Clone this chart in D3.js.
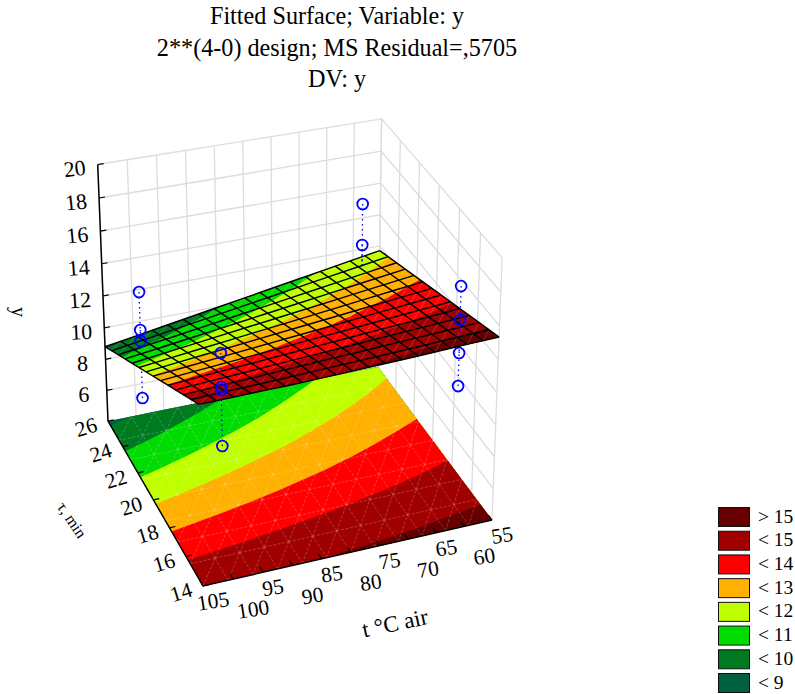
<!DOCTYPE html>
<html>
<head>
<meta charset="utf-8">
<script src="https://cdn.jsdelivr.net/npm/d3@7"></script>
<style>
html, body { margin: 0; padding: 0; background: #fff; }
text { font-family: "Liberation Serif", "Times New Roman", serif; fill: #000; }
</style>
</head>
<body>
<div id="Surface"></div>
<script>
//the chart values
var titleLines = ["Fitted Surface; Variable: y", "2**(4-0) design; MS Residual=,5705", "DV: y"]

var tValues = [105, 100, 95, 90, 85, 80, 75, 70, 65, 60, 55]
var tauValues = [14, 16, 18, 20, 22, 24, 26]
var zTicks = [6, 8, 10, 12, 14, 16, 18, 20]

//fitted surface heights, one row per tau, same order as tValues
var zAtTau14 = [14.90, 14.92, 14.94, 14.96, 15.00, 15.05, 15.10, 15.15, 15.22, 15.28, 15.34]
var zAtTau16 = [13.88, 13.97, 14.05, 14.14, 14.23, 14.31, 14.39, 14.48, 14.56, 14.65, 14.73]
var zAtTau18 = [12.87, 13.00, 13.12, 13.24, 13.37, 13.50, 13.62, 13.75, 13.87, 14.00, 14.13]
var zAtTau20 = [11.85, 12.02, 12.19, 12.35, 12.52, 12.69, 12.85, 13.02, 13.19, 13.36, 13.52]
var zAtTau22 = [10.83, 11.04, 11.25, 11.46, 11.67, 11.87, 12.08, 12.29, 12.50, 12.71, 12.91]
var zAtTau24 = [9.82, 10.06, 10.31, 10.56, 10.81, 11.06, 11.31, 11.56, 11.81, 12.06, 12.31]
var zAtTau26 = [8.80, 9.09, 9.38, 9.67, 9.96, 10.25, 10.54, 10.83, 11.12, 11.41, 11.70]

//the 16 runs of the design
var obsT = [100, 100, 100, 100, 100, 100, 100, 100, 60, 60, 60, 60, 60, 60, 60, 60]
var obsTau = [25, 25, 25, 25, 15, 15, 15, 15, 25, 25, 25, 25, 15, 15, 15, 15]
var obsZ = [12.67, 10.3, 9.6, 5.95, 16.7, 14.73, 14.55, 11.25, 15.68, 13.09, 11.0, 10.0, 17.92, 15.92, 13.94, 11.93]

var levels = [0, 9, 10, 11, 12, 13, 14, 15]
var levelColors = ["#006040", "#007a20", "#00dc00", "#c0ff00", "#ffb000", "#ff0000", "#a00000", "#660000"]
var legendLabels = ["< 9", "< 10", "< 11", "< 12", "< 13", "< 14", "< 15", "> 15"]

//scales, u v w run 0 to 1 along each edge of the box
var uScale = d3.scaleLinear().domain([105, 55]).range([0, 1])
var vScale = d3.scaleLinear().domain([14, 26]).range([0, 1])
var wScale = d3.scaleLinear().domain([4, 20]).range([0, 1])

//camera worked out from the corners of the box in the picture
var project = function(t, tau, z)
{
    var u = uScale(t), v = vScale(tau), w = wScale(z)
    var den = 0.04664*u + 0.09006*v - 0.054*w + 1
    return [(311.95*u - 85.27*v - 16.5*w + 203)/den,
            (-41.75*u - 127.08*v - 288.5*w + 586)/den]
}

var zRows = [zAtTau14, zAtTau16, zAtTau18, zAtTau20, zAtTau22, zAtTau24, zAtTau26]
var nx = tValues.length, ny = tauValues.length
var colToT = d3.scaleLinear().domain([0, nx-1]).range([105, 55])
var rowToTau = d3.scaleLinear().domain([0, ny-1]).range([14, 26])

//height of the surface between the table entries
var surfaceZ = function(t, tau)
{
    var cx = colToT.invert(t), cy = rowToTau.invert(tau)
    var i = Math.min(Math.floor(cx), nx-2), j = Math.min(Math.floor(cy), ny-2)
    var fx = cx - i, fy = cy - j
    return (zRows[j][i]*(1-fx) + zRows[j][i+1]*fx)*(1-fy) + (zRows[j+1][i]*(1-fx) + zRows[j+1][i+1]*fx)*fy
}

var svg = d3.select("#Surface")
.append("svg")
.attr("width", 795)
.attr("height", 694)
.style("display", "block")

var pathOf = function(points, close)
{
    return "M" + points.map(function(p){ return p[0].toFixed(2)+","+p[1].toFixed(2) }).join("L") + (close ? "Z" : "")
}

//back walls
var grid = svg.append("g").attr("fill", "none").attr("stroke", "#dcdcdc").attr("stroke-width", 1.3)
zTicks.forEach(function(z)
{
    grid.append("path").attr("d", pathOf([project(105, 26, z), project(55, 26, z), project(55, 14, z)]))
})
tValues.forEach(function(t)
{
    grid.append("path").attr("d", pathOf([project(t, 26, 4), project(t, 26, 20)]))
})
tauValues.forEach(function(tau)
{
    grid.append("path").attr("d", pathOf([project(55, tau, 4), project(55, tau, 20)]))
})

//coloured bands, painted lowest first so each one sits on the one before
var contourData = d3.contours().size([nx, ny]).smooth(true).thresholds(levels)(d3.merge(zRows))

var drawBands = function(parent, heightOf)
{
    contourData.forEach(function(band, k)
    {
        var d = ""
        band.coordinates.forEach(function(polygon)
        {
            polygon.forEach(function(ring)
            {
                d += pathOf(ring.map(function(p)
                {
                    var t = colToT(Math.max(0, Math.min(nx-1, p[0]-0.5)))
                    var tau = rowToTau(Math.max(0, Math.min(ny-1, p[1]-0.5)))
                    return project(t, tau, heightOf(t, tau))
                }), true)
            })
        })
        parent.append("path")
        .attr("d", d)
        .attr("fill", levelColors[k])
        .attr("fill-rule", "evenodd")
    })
}

//light triangle mesh, tSteps by tauSteps cells
var drawTriangles = function(parent, heightOf, tSteps, tauSteps, opacity, dash, edges)
{
    var tAt = d3.scaleLinear().domain([0, tSteps]).range([105, 55])
    var tauAt = d3.scaleLinear().domain([0, tauSteps]).range([14, 26])
    var d = ""
    d3.range(tSteps).forEach(function(i)
    {
        d3.range(tauSteps).forEach(function(j)
        {
            var p00 = project(tAt(i), tauAt(j), heightOf(tAt(i), tauAt(j)))
            var p10 = project(tAt(i+1), tauAt(j), heightOf(tAt(i+1), tauAt(j)))
            var p01 = project(tAt(i), tauAt(j+1), heightOf(tAt(i), tauAt(j+1)))
            var p11 = project(tAt(i+1), tauAt(j+1), heightOf(tAt(i+1), tauAt(j+1)))
            d += pathOf([p00, p11])
            if(edges)
            {
                d += pathOf([p00, p10]) + pathOf([p00, p01])
            }
        })
    })
    parent.append("path")
    .attr("d", d)
    .attr("fill", "none")
    .attr("stroke", "#fff")
    .attr("stroke-opacity", opacity)
    .attr("stroke-width", 0.8)
    .attr("stroke-dasharray", dash)
}

var floorHeight = function(){ return 4 }

var floor = svg.append("g")
drawBands(floor, floorHeight)
drawTriangles(floor, floorHeight, 12, 8, 0.28, "3 1.5", true)

//floor edges and tick marks
var axes = svg.append("g").attr("fill", "none").attr("stroke", "#000")
axes.append("path").attr("stroke-width", 1.5).attr("d", pathOf([project(105, 26, 20), project(105, 26, 4), project(105, 14, 4), project(55, 14, 4)]))
tValues.forEach(function(t)
{
    axes.append("path").attr("stroke-width", 1.2).attr("d", pathOf([project(t, 14, 4), project(t, 14.35, 4)]))
})
tauValues.forEach(function(tau)
{
    axes.append("path").attr("stroke-width", 1.2).attr("d", pathOf([project(105, tau, 4), project(104, tau, 4)]))
})
zTicks.forEach(function(z)
{
    axes.append("path").attr("stroke-width", 1.2).attr("d", pathOf([project(105, 26, z), project(104, 26, z)]))
})

//split the runs, the ones below the surface get covered by it
var runs = obsZ.map(function(z, i)
{
    return {t: obsT[i], tau: obsTau[i], z: z, below: z < surfaceZ(obsT[i], obsTau[i])}
})

var drawRuns = function(parent, subset)
{
    var g = parent.append("g").attr("fill", "none").attr("stroke", "#0000ff")

    g.selectAll("path")
    .data(subset)
    .enter()
    .append("path")
    .attr("stroke-width", 1.3)
    .attr("stroke-dasharray", "1.5 3.5")
    .attr("d", function(d)
    {
        return pathOf([project(d.t, d.tau, d.z), project(d.t, d.tau, surfaceZ(d.t, d.tau))])
    })

    g.selectAll("circle")
    .data(subset)
    .enter()
    .append("circle")
    .attr("cx", function(d){ return project(d.t, d.tau, d.z)[0] })
    .attr("cy", function(d){ return project(d.t, d.tau, d.z)[1] })
    .attr("r", 5.4)
    .attr("stroke-width", 1.8)
}

drawRuns(svg, runs.filter(function(d){ return d.below }))

//the surface itself
var surface = svg.append("g")
drawBands(surface, surfaceZ)
drawTriangles(surface, surfaceZ, 18, 13, 0.22, null, false)

var meshT = d3.range(19).map(d3.scaleLinear().domain([0, 18]).range([105, 55]))
var meshTau = d3.range(14).map(d3.scaleLinear().domain([0, 13]).range([14, 26]))
var mesh = surface.append("g").attr("fill", "none").attr("stroke", "#000").attr("stroke-width", 1.4)
meshT.forEach(function(t)
{
    mesh.append("path").attr("d", pathOf(tauValues.map(function(tau){ return project(t, tau, surfaceZ(t, tau)) })))
})
meshTau.forEach(function(tau)
{
    mesh.append("path").attr("d", pathOf(tValues.map(function(t){ return project(t, tau, surfaceZ(t, tau)) })))
})

drawRuns(svg, runs.filter(function(d){ return !d.below }))

//tick labels, text leans along with its axis
var placeLabel = function(text, p, dx, dy, angle, size)
{
    svg.append("text")
    .attr("transform", "translate("+(p[0]+dx)+","+(p[1]+dy)+") rotate("+angle+")")
    .attr("text-anchor", "middle")
    .attr("dy", "0.34em")
    .attr("font-size", size)
    .text(text)
}

var zAngle = d3.scaleLinear().domain([6, 20]).range([-1, -7])
zTicks.forEach(function(z)
{
    placeLabel(z, project(105, 26, z), -23, 4, zAngle(z), 22)
})
tauValues.forEach(function(tau)
{
    placeLabel(tau, project(105, tau, 4), -22, 6, -17, 21.5)
})
tValues.forEach(function(t, i)
{
    var odd = i % 2 == 1
    placeLabel(t, project(t, 14, 4), odd ? 20 : 10, odd ? 30 : 15, -9, 21.5)
})

//axis titles
placeLabel("y", [19, 312], 0, 0, 90, 20)
placeLabel("τ, min", [72, 520], 0, 0, 56, 16)
placeLabel("t °C air", [395, 623], 0, 0, -12, 23)

//title
svg.selectAll("text.title")
.data(titleLines)
.enter()
.append("text")
.attr("class", "title")
.attr("x", 337)
.attr("y", function(d, i){ return 24 + i*31.5 })
.attr("text-anchor", "middle")
.attr("font-size", 24.2)
.text(function(d){ return d })

//legend, top row is the highest level
var legendY = d3.scaleLinear().domain([0, 7]).range([507, 673])
var legendRows = levelColors.map(function(c, i)
{
    return {color: c, label: legendLabels[i]}
}).reverse()

var legend = svg.selectAll("g.legendRow")
.data(legendRows)
.enter()
.append("g")
.attr("class", "legendRow")
.attr("transform", function(d, i){ return "translate(718,"+legendY(i)+")" })

legend.append("rect")
.attr("x", 0.5)
.attr("y", 0.5)
.attr("width", 31)
.attr("height", 19)
.attr("fill", function(d){ return d.color })
.attr("stroke", "#111")

legend.append("text")
.attr("x", 40)
.attr("y", 15.5)
.attr("font-size", 19.5)
.text(function(d){ return d.label })
</script>
</body>
</html>
